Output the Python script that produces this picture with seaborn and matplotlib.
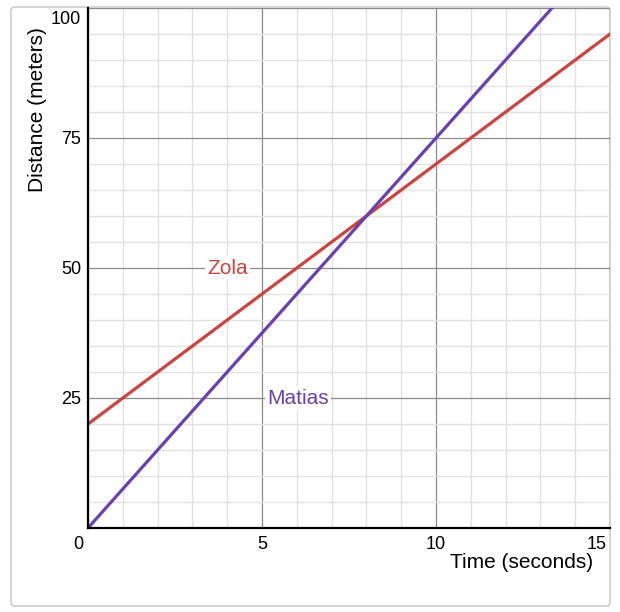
import numpy as np
import pandas as pd
import seaborn as sns
import matplotlib.pyplot as plt
from matplotlib import ticker
from matplotlib.patches import FancyBboxPatch
from matplotlib.transforms import ScaledTranslation

# values
time_s = [0, 8, 15]
zola_m = [20, 60, 95]
matias_m = [0, 60, 112.5]
x_ticks = [0, 5, 10, 15]
y_ticks = [25, 50, 75, 100]

RED = '#cc4440'
PURPLE = '#6a40b0'

sns.set_theme(style='white')
plt.rcParams['font.family'] = ['Liberation Sans', 'DejaVu Sans']
plt.rcParams['text.color'] = 'black'

df = pd.DataFrame({'time': time_s * 2,
                   'dist': zola_m + matias_m,
                   'who': ['Zola'] * 3 + ['Matias'] * 3})

fig = plt.figure(figsize=(6.2, 6.12), dpi=100)
# light rounded frame round the whole card (drawn behind the axes)
frame = FancyBboxPatch((11 / 620, 6 / 612), 599 / 620, 599 / 612,
                       boxstyle='round,pad=0,rounding_size=0.006',
                       transform=fig.transFigure, fc='white', ec='#c4c4c4', lw=1.0,
                       zorder=-5)
fig.patches.append(frame)

ax = fig.add_axes([88 / 620, 1 - 528 / 612, 522 / 620, 520 / 612])
ax.set_facecolor('none')

sns.lineplot(data=df, x='time', y='dist', hue='who',
             palette={'Zola': RED, 'Matias': PURPLE},
             linewidth=2.3, legend=False, ax=ax, zorder=4)

ax.set_xlim(0, 15)
ax.set_ylim(0, 100)

ax.xaxis.set_major_locator(ticker.FixedLocator(x_ticks))
ax.yaxis.set_major_locator(ticker.FixedLocator(y_ticks))
ax.xaxis.set_minor_locator(ticker.MultipleLocator(1))
ax.yaxis.set_minor_locator(ticker.MultipleLocator(5))
ax.grid(True, which='minor', color='#e2e2e2', lw=1.0, zorder=0)
ax.grid(True, which='major', color='#8c8c8c', lw=0.9, zorder=1)
ax.set_axisbelow(True)

for s in ['top', 'right']:
    ax.spines[s].set_visible(False)
for s in ['left', 'bottom']:
    ax.spines[s].set_color('black')
    ax.spines[s].set_linewidth(1.6)
    ax.spines[s].set_zorder(5)

ax.set_xticklabels([str(v) for v in x_ticks])
ax.set_yticklabels([str(v) for v in y_ticks])
ax.tick_params(which='both', length=0, labelsize=13, colors='black')
ax.tick_params(axis='x', pad=6)
ax.tick_params(axis='y', pad=5)

px = 1 / 100  # one pixel in inches
xl = ax.get_xticklabels()
xl[0].set_ha('right')
xl[0].set_transform(xl[0].get_transform() + ScaledTranslation(-5 * px, 0, fig.dpi_scale_trans))
xl[-1].set_ha('right')
xl[-1].set_transform(xl[-1].get_transform() + ScaledTranslation(-3 * px, 0, fig.dpi_scale_trans))
yl = ax.get_yticklabels()
yl[-1].set_va('top')
yl[-1].set_transform(yl[-1].get_transform() + ScaledTranslation(0, -3 * px, fig.dpi_scale_trans))

ax.set_xlabel('')
ax.set_ylabel('')
fig.text(593 / 620, 1 - 563 / 612, 'Time (seconds)', ha='right', va='center',
         fontsize=15, color='black')
fig.text(38 / 620, 1 - 110 / 612, 'Distance (meters)', rotation=90,
         ha='center', va='center', fontsize=15, color='black')

lbl_box = dict(boxstyle='square,pad=0.1', fc='white', ec='none')
ax.text(4, 50, 'Zola', color=RED, fontsize=15, ha='center', va='center',
        bbox=lbl_box, zorder=3)
ax.text(6.03, 25, 'Matias', color=PURPLE, fontsize=15, ha='center', va='center',
        bbox=lbl_box, zorder=3)

fig.savefig('out.png', dpi=100)
